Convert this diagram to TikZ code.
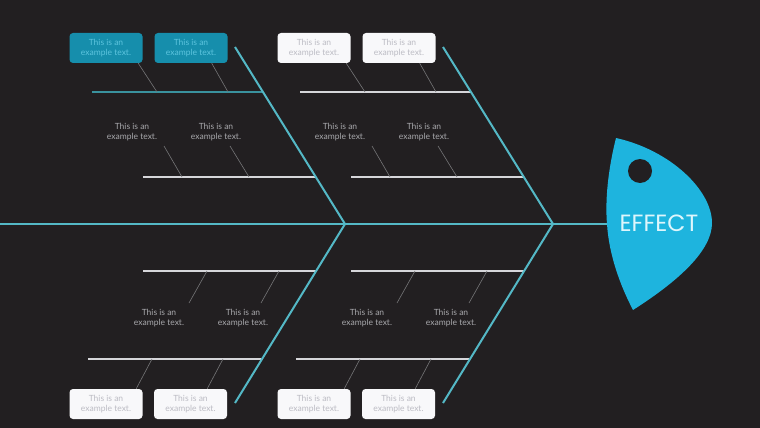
\documentclass[tikz,border=0pt]{standalone}
\usepackage{fontspec}
\setmainfont{Lato}
\newfontfamily\headfont{Poppins}
\usetikzlibrary{calc}
\definecolor{bgdark}{RGB}{34,31,33}
\definecolor{boneteal}{RGB}{84,184,198}
\definecolor{lineteal}{RGB}{58,146,158}
\definecolor{linewhite}{RGB}{214,214,218}
\definecolor{conngray}{RGB}{118,118,120}
\definecolor{notegray}{RGB}{168,168,172}
\definecolor{boxwhite}{RGB}{248,248,250}
\definecolor{boxtext}{RGB}{188,188,196}
\definecolor{boxcyan}{RGB}{22,142,172}
\definecolor{boxcyantext}{RGB}{92,196,222}
\definecolor{headblue}{RGB}{30,180,222}
\definecolor{effecttext}{RGB}{222,246,252}
\tikzset{
    %Define style for boxes
    wbox/.style={
           rectangle,
           rounded corners=3.5pt,
           fill=boxwhite,
           text=boxtext,
           minimum width=73pt,
           minimum height=30pt,
           inner sep=0pt,
           align=center,
           font=\fontsize{8.5}{10.3}\selectfont},
    hlbox/.style={
           wbox,
           fill=boxcyan,
           text=boxcyantext},
    note/.style={
           inner sep=0pt,
           align=center,
           text=notegray,
           font=\fontsize{8.5}{10.3}\selectfont},
    % Define line styles
    bone/.style={draw=boneteal, line width=2pt},
    wline/.style={draw=linewhite, line width=1.8pt},
    hlline/.style={draw=lineteal, line width=1.8pt},
    conn/.style={draw=conngray, line width=0.6pt}
}
\begin{document}
\begin{tikzpicture}[x=1pt,y=-1pt]
\useasboundingbox (0,0) rectangle (760,428);
\fill[bgdark] (0,0) rectangle (760,428);
 %spine
\coordinate (tail) at (0,224);
\coordinate (neck) at (607,224);
\draw[bone] (tail) -- (neck);
 %two groups of bones
\foreach \dx/\g/\bst/\lst in {0/a/hlbox/hlline,208/b/wbox/wline}{
 \begin{scope}[xshift=\dx pt]
 \coordinate (\g top) at (235,47);
 \coordinate (\g j) at (345,224);
 \coordinate (\g bot) at (235,403);
 %branch lines
 \coordinate (\g u0) at (92,92);   \coordinate (\g u1) at (263,92);
 \coordinate (\g l0) at (143,177); \coordinate (\g l1) at (316,177);
 \coordinate (\g m0) at (143,271); \coordinate (\g m1) at (316,271);
 \coordinate (\g n0) at (88,359);  \coordinate (\g n1) at (261,359);
 \draw[\lst] (\g u0) -- (\g u1);
 \draw[wline] (\g l0) -- (\g l1);
 \draw[wline] (\g m0) -- (\g m1);
 \draw[wline] (\g n0) -- (\g n1);
 \draw[bone] (\g top) -- (\g j) -- (\g bot);
 %boxes and notes
 \node[\bst] (\g b1) at (106,48) {This is an\\example text.};
 \node[\bst] (\g b2) at (191,48) {This is an\\example text.};
 \node[note] (\g t1) at (132,132) {This is an\\example text.};
 \node[note] (\g t2) at (216,132) {This is an\\example text.};
 \node[note] (\g s1) at (159,318) {This is an\\example text.};
 \node[note] (\g s2) at (243,318) {This is an\\example text.};
 \node[wbox] (\g c1) at (106,404) {This is an\\example text.};
 \node[wbox] (\g c2) at (190.5,404) {This is an\\example text.};
 %connectors
 \coordinate (\g p1) at ($(\g u0)+(65,0)$);
 \coordinate (\g p2) at ($(\g u0)+(136,0)$);
 \coordinate (\g q1) at ($(\g l0)+(39,0)$);
 \coordinate (\g q2) at ($(\g l0)+(106,0)$);
 \coordinate (\g r1) at ($(\g m0)+(64,0)$);
 \coordinate (\g r2) at ($(\g m0)+(136,0)$);
 \coordinate (\g w1) at ($(\g n0)+(64,0)$);
 \coordinate (\g w2) at ($(\g n0)+(135,0)$);
 \draw[conn] ([xshift=-4.5pt]\g b1.south east) -- (\g p1);
 \draw[conn] ([xshift=-16pt]\g b2.south east) -- (\g p2);
 \draw[conn] ([shift={(32,14)}]\g t1.center) -- (\g q1);
 \draw[conn] ([shift={(14,14)}]\g t2.center) -- (\g q2);
 \draw[conn] (\g r1) -- ([shift={(30,-15)}]\g s1.center);
 \draw[conn] (\g r2) -- ([shift={(18,-15)}]\g s2.center);
 \draw[conn] (\g w1) -- ([xshift=-6.5pt]\g c1.north east);
 \draw[conn] (\g w2) -- ([xshift=-20pt]\g c2.north east);
 \end{scope}
}
 %head
\fill[headblue] (616,138) .. controls (608,170) and (605,200) .. (607,224)
   .. controls (609,255) and (620,285) .. (633,310)
   .. controls (680,280) and (712,250) .. (712,223)
   .. controls (712,190) and (670,150) .. (616,138) -- cycle;
\fill[bgdark] (640,171) circle (12pt);
\node[font=\headfont\fontsize{23.5}{23.5}\selectfont, text=effecttext, inner sep=0pt] (effect) at (659,223) {EFFECT};
\end{tikzpicture}
\end{document}
